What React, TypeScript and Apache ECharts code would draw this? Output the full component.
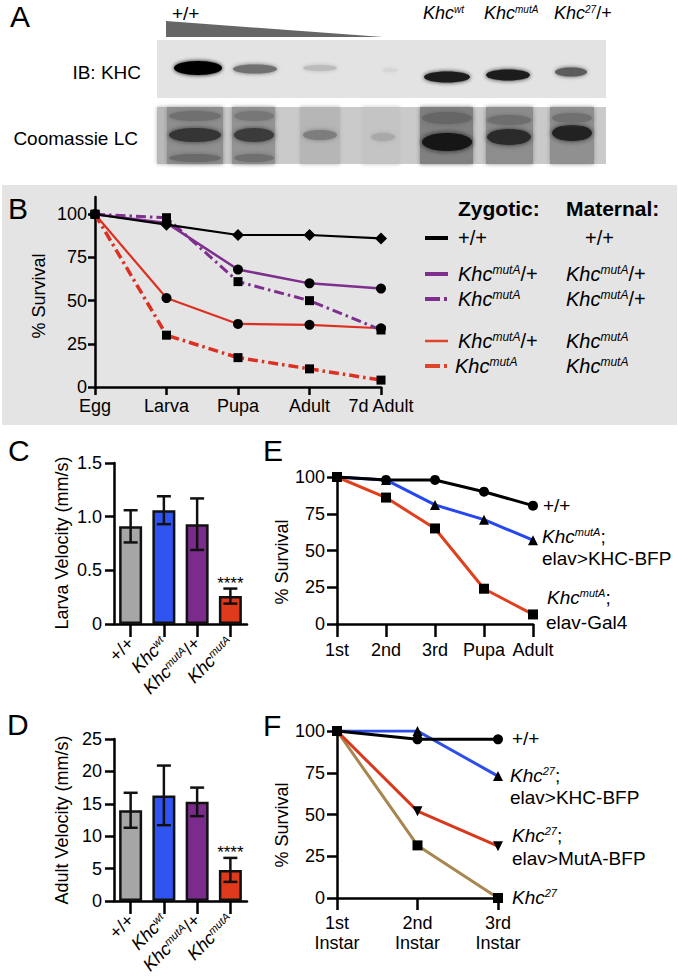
import React, { useEffect, useRef } from 'react';
import * as echarts from 'echarts';

const FONT = '"Liberation Sans", Arial, Helvetica, sans-serif';

// ---------- Panel B : survival by stage (maternal / zygotic) ----------
const stagesB = ['Egg', 'Larva', 'Pupa', 'Adult', '7d Adult'];
const bWildType = [100, 94, 88, 88, 86];
const bZygHetMatHet = [100, 95, 68, 60, 57];
const bZygHomMatHet = [100, 98, 61, 50, 33];
const bZygHetMatHom = [100, 51.5, 36.5, 36, 34];
const bZygHomMatHom = [100, 30, 17, 10.5, 4];

// ---------- Panels C / D : velocities ----------
const genotypes = ['+/+', 'Khc^wt', 'Khc^mutA/+', 'Khc^mutA'];
const barColors = ['#a6a6a6', '#2f54f2', '#7a2b8b', '#df3a1b'];
const larvaVelocity = [0.91, 1.06, 0.93, 0.26];
const larvaErr = [0.15, 0.13, 0.24, 0.07];
const adultVelocity = [14.0, 16.3, 15.3, 4.8];
const adultErr = [2.7, 4.6, 2.2, 1.85];
const significance = ['', '', '', '****'];
const larvaTicks = [0, 0.5, 1.0, 1.5];
const adultTicks = [0, 5, 10, 15, 20, 25];

// ---------- Panel E ----------
const stagesE = ['1st', '2nd', '3rd', 'Pupa', 'Adult'];
const eWildType = [100, 98, 98, 90, 80.5];
const eRescueKHC = [100, 98, 81, 71, 57];
const eGal4 = [100, 86, 65, 24, 6.5];

// ---------- Panel F ----------
const stagesF = ['1st\nInstar', '2nd\nInstar', '3rd\nInstar'];
const fWildType = [100, 95, 95];
const fRescueKHC = [100, 100, 73];
const fRescueMutA = [100, 52, 31];
const fKhc27 = [100, 31.5, 0];

const survivalTicks = [0, 25, 50, 75, 100];

// rich helpers -----------------------------------------------------------
const toRich = (s: string) => {
  const m = s.match(/^Khc\^([^/;]+)(.*)$/);
  if (!m) return `{n|${s}}`;
  return `{k|Khc}{s|${m[1]}}` + (m[2] ? `{n|${m[2]}}` : '');
};

const optRich = (size: number, sup: number) => ({
  n: { fontSize: size, fontFamily: FONT, color: '#000' },
  k: { fontSize: size, fontFamily: FONT, fontStyle: 'italic', color: '#000' },
  s: { fontSize: sup, fontFamily: FONT, fontStyle: 'italic', color: '#000', verticalAlign: 'top', lineHeight: sup + 2 },
});
const gRich = (size: number, sup: number) => ({
  n: { fontSize: size, fontFamily: FONT, fill: '#000' },
  k: { fontSize: size, fontFamily: FONT, fontStyle: 'italic', fill: '#000' },
  s: { fontSize: sup, fontFamily: FONT, fontStyle: 'italic', fill: '#000', verticalAlign: 'top', lineHeight: sup + 2 },
});

const gText = (x: number, y: number, text: string, size = 19, extra: any = {}) => ({
  type: 'text', x, y, silent: true, z: 10,
  style: {
    text, fill: '#000', fontSize: size, fontFamily: FONT,
    align: 'left', verticalAlign: 'middle', rich: gRich(size, Math.round(size * 0.6)), ...extra,
  },
});

const gRichText = (x: number, y: number, s: string, size = 19, sup = 11) => ({
  type: 'text', x, y, silent: true, z: 10,
  style: { text: s, fill: '#000', fontSize: size, fontFamily: FONT, align: 'left', verticalAlign: 'middle', rich: gRich(size, sup) },
});

const vText = (x: number, y: number, text: string, size = 18) => ({
  type: 'text', x, y, rotation: Math.PI / 2, silent: true, z: 10,
  style: { text, fill: '#000', fontSize: size, fontFamily: FONT, align: 'center', verticalAlign: 'middle' },
});

const gLine = (x1: number, y1: number, x2: number, y2: number, stroke: string, lineWidth: number) => ({
  type: 'line', silent: true, z: 10, shape: { x1, y1, x2, y2 }, style: { stroke, lineWidth },
});

// axis helpers --------------------------------------------------------------
const axLine = { show: true, lineStyle: { color: '#000', width: 2.5 } };
const tick = (len: number) => ({ show: true, length: len, lineStyle: { color: '#000', width: 2.5 } });

const errRender = (sig: string[]) => (params: any, api: any) => {
  const i = api.value(0);
  const m = api.value(1);
  const e = api.value(2);
  const top = api.coord([i, m + e]);
  const bot = api.coord([i, m - e]);
  const cap = 7;
  const st = { stroke: '#111', lineWidth: 2.5 };
  const children: any[] = [
    { type: 'line', shape: { x1: top[0], y1: top[1], x2: bot[0], y2: bot[1] }, style: st },
    { type: 'line', shape: { x1: top[0] - cap, y1: top[1], x2: top[0] + cap, y2: top[1] }, style: st },
    { type: 'line', shape: { x1: bot[0] - cap, y1: bot[1], x2: bot[0] + cap, y2: bot[1] }, style: st },
  ];
  const s = sig[params.dataIndex];
  if (s) {
    children.push({
      type: 'text', x: top[0], y: top[1] - 5,
      style: { text: s, fill: '#000', fontSize: 17, fontFamily: FONT, align: 'center', verticalAlign: 'middle' },
    });
  }
  return { type: 'group', children };
};

const lineSeries = (data: number[], idx: number, color: string, symbol: string, size: number, type: any, width: number, extra: any = {}) => ({
  type: 'line', xAxisIndex: idx, yAxisIndex: idx, data, symbol, symbolSize: size,
  lineStyle: { color, width, type }, itemStyle: { color: '#000', borderWidth: 0 }, emphasis: { disabled: true }, ...extra,
});

const dashDot = [10, 4, 2.5, 4];

export default function App() {
  const ref = useRef<HTMLDivElement>(null);

  useEffect(() => {
    if (!ref.current) return;
    const chart = echarts.init(ref.current, undefined, { renderer: 'svg' });

    // ---------- graphics: panel A blot ----------
    const blot: any[] = [];
    blot.push({ type: 'polygon', silent: true, shape: { points: [[166, 21], [383, 37], [166, 37]] }, style: { fill: '#666' } });
    blot.push({ type: 'rect', silent: true, shape: { x: 157, y: 40, width: 449, height: 58 }, style: { fill: '#e3e3e3' } });
    blot.push({ type: 'rect', silent: true, shape: { x: 157, y: 107, width: 449, height: 57 }, style: { fill: '#cacaca' } });
    const cols = [
      [157, 10, '#b9b9b9'], [167, 56, '#8f8f8f'], [232, 43, '#949494'], [300, 40, '#b6b6b6'],
      [362, 38, '#c4c4c4'], [420, 53, '#808080'], [486, 47, '#8d8d8d'], [550, 44, '#909090'],
    ];
    cols.forEach((c: any) => blot.push({ type: 'rect', silent: true, shape: { x: c[0], y: 107, width: c[1], height: 57 }, style: { fill: c[2], shadowBlur: 4, shadowColor: c[2] } }));
    const cBands = [
      [195, 135, 26, 7, '#353535'], [254, 135, 20, 7, '#3a3a3a'], [320, 135, 17, 5, '#7d7d7d'],
      [383, 137, 12, 4, '#a8a8a8'], [447, 142, 25, 9, '#151515'], [509, 137, 22, 8, '#2b2b2b'], [572, 133, 20, 8, '#202020'],
      [195, 158, 26, 4, '#6a6a6a'], [254, 158, 20, 4, '#6f6f6f'], [195, 116, 26, 5, '#6f6f6f'], [254, 116, 20, 5, '#777'],
      [447, 118, 25, 6, '#666'], [509, 120, 22, 5, '#6e6e6e'], [572, 118, 20, 5, '#707070'],
    ];
    cBands.forEach((b: any) => blot.push({ type: 'ellipse', silent: true, shape: { cx: b[0], cy: b[1], rx: b[2], ry: b[3] }, style: { fill: b[4], shadowBlur: 5, shadowColor: b[4] } }));
    const kBands = [
      [198, 68, 24, 7, '#050505'], [255, 69, 22, 4.5, '#707070'], [320, 68, 17, 3, '#bcbcbc'], [390, 70, 8, 2, '#d6d6d6'],
      [447, 77, 23, 5.5, '#1a1a1a'], [508, 75, 22, 5.5, '#1e1e1e'], [571, 72, 16, 4.5, '#5c5c5c'],
    ];
    kBands.forEach((b: any) => blot.push({ type: 'ellipse', silent: true, shape: { cx: b[0], cy: b[1], rx: b[2], ry: b[3] }, style: { fill: b[4], shadowBlur: 4, shadowColor: b[4] } }));

    const graphics: any[] = [
      // panel B background
      { type: 'rect', silent: true, z: -10, shape: { x: 2, y: 185, width: 675, height: 240 }, style: { fill: '#e4e4e4' } },
      ...blot,
      // panel letters
      gText(10, 16, 'A', 30), gText(8, 208, 'B', 30), gText(8, 450, 'C', 30),
      gText(7, 724, 'D', 30), gText(263, 450, 'E', 30), gText(263, 725, 'F', 30),
      // panel A labels
      gText(172, 13, '+/+', 19),
      gRichText(423, 13, toRich('Khc^wt'), 18, 10),
      gRichText(484, 13, toRich('Khc^mutA'), 18, 10),
      gRichText(554, 13, toRich('Khc^27/+'), 18, 10),
      gText(141, 72, 'IB: KHC', 19, { align: 'right' }),
      gText(138, 138, 'Coomassie LC', 19, { align: 'right' }),
      // panel B legend
      gText(458, 208, 'Zygotic:', 21, { fontWeight: 'bold' }),
      gText(566, 208, 'Maternal:', 21, { fontWeight: 'bold' }),
      gLine(425, 238, 448, 238, '#000', 4),
      gText(458, 238, '+/+', 20), gText(585, 238, '+/+', 20),
      gLine(425, 274, 448, 274, '#7e2f8e', 4),
      gRichText(458, 274, toRich('Khc^mutA/+'), 20, 12), gRichText(566, 274, toRich('Khc^mutA/+'), 20, 12),
      gLine(425, 299, 440, 299, '#7e2f8e', 4), gLine(444, 299, 447, 299, '#7e2f8e', 4),
      gRichText(458, 299, toRich('Khc^mutA'), 20, 12), gRichText(566, 299, toRich('Khc^mutA/+'), 20, 12),
      gLine(425, 341, 448, 341, '#e0442a', 2.5),
      gRichText(458, 341, toRich('Khc^mutA/+'), 20, 12), gRichText(566, 341, toRich('Khc^mutA'), 20, 12),
      gLine(425, 366, 440, 366, '#e0442a', 4), gLine(444, 366, 447, 366, '#e0442a', 4),
      gRichText(455, 366, toRich('Khc^mutA'), 20, 12), gRichText(566, 366, toRich('Khc^mutA'), 20, 12),
      // y-axis names
      vText(39, 296, '% Survival'),
      vText(62, 543, 'Larva Velocity (mm/s)'),
      vText(62, 820, 'Adult Velocity (mm/s)'),
      vText(282, 562, '% Survival'),
      vText(282, 825, '% Survival'),
      // panel E annotations
      gText(543, 505, '+/+', 19),
      gRichText(542, 536, toRich('Khc^mutA;'), 19, 11),
      gText(542, 558, 'elav>KHC-BFP', 19),
      gRichText(547, 597, toRich('Khc^mutA;'), 19, 11),
      gText(546, 622, 'elav-Gal4', 19),
      // panel F annotations
      gText(512, 738, '+/+', 19),
      gRichText(510, 775, toRich('Khc^27;'), 19, 11),
      gText(510, 797, 'elav>KHC-BFP', 19),
      gRichText(512, 835, toRich('Khc^27;'), 19, 11),
      gText(512, 858, 'elav>MutA-BFP', 19),
      gRichText(512, 897, toRich('Khc^27'), 19, 11),
    ];

    const baseLabel = { color: '#000', fontSize: 18, fontFamily: FONT };

    const option: any = {
      animation: false,
      backgroundColor: '#fff',
      textStyle: { fontFamily: FONT },
      graphic: { elements: graphics },
      grid: [
        { left: 95, top: 197, width: 286, height: 190, containLabel: false },
        { left: 114, top: 463, width: 133, height: 161, containLabel: false },
        { left: 114, top: 739, width: 133, height: 162, containLabel: false },
        { left: 337, top: 477, width: 196, height: 147, containLabel: false },
        { left: 337, top: 731, width: 161, height: 167, containLabel: false },
      ],
      xAxis: [
        {
          gridIndex: 0, type: 'category', data: stagesB, boundaryGap: false,
          axisLine: axLine, axisTick: tick(8), splitLine: { show: false },
          axisLabel: { ...baseLabel, margin: 10, interval: 0 },
        },
        {
          gridIndex: 1, type: 'category', data: genotypes, boundaryGap: true,
          axisLine: axLine, axisTick: { ...tick(13), alignWithLabel: true, interval: 0 }, splitLine: { show: false },
          axisLabel: { ...baseLabel, rotate: 45, margin: 16, interval: 0, formatter: (v: string) => toRich(v), rich: optRich(18, 11) },
        },
        {
          gridIndex: 2, type: 'category', data: genotypes, boundaryGap: true,
          axisLine: axLine, axisTick: { ...tick(13), alignWithLabel: true, interval: 0 }, splitLine: { show: false },
          axisLabel: { ...baseLabel, rotate: 45, margin: 16, interval: 0, formatter: (v: string) => toRich(v), rich: optRich(18, 11) },
        },
        {
          gridIndex: 3, type: 'category', data: stagesE, boundaryGap: false,
          axisLine: axLine, axisTick: tick(13), splitLine: { show: false },
          axisLabel: { ...baseLabel, margin: 17, interval: 0 },
        },
        {
          gridIndex: 4, type: 'category', data: stagesF, boundaryGap: false,
          axisLine: axLine, axisTick: tick(12), splitLine: { show: false },
          axisLabel: { ...baseLabel, margin: 15, interval: 0, lineHeight: 20 },
        },
      ],
      yAxis: [
        {
          gridIndex: 0, type: 'value', min: 0, max: 110,
          axisLine: axLine, splitLine: { show: false },
          axisTick: { ...tick(7), customValues: survivalTicks },
          axisLabel: { ...baseLabel, margin: 8, customValues: survivalTicks },
        },
        {
          gridIndex: 1, type: 'value', min: 0, max: 1.5, interval: 0.5,
          axisLine: axLine, splitLine: { show: false }, axisTick: tick(9),
          axisLabel: { ...baseLabel, margin: 12, formatter: (v: number) => (v === 0 ? '0' : v.toFixed(1)) },
        },
        {
          gridIndex: 2, type: 'value', min: 0, max: 25, interval: 5,
          axisLine: axLine, splitLine: { show: false }, axisTick: tick(9),
          axisLabel: { ...baseLabel, margin: 12 },
        },
        {
          gridIndex: 3, type: 'value', min: 0, max: 100, interval: 25,
          axisLine: axLine, splitLine: { show: false }, axisTick: tick(10),
          axisLabel: { ...baseLabel, margin: 12 },
        },
        {
          gridIndex: 4, type: 'value', min: 0, max: 100, interval: 25,
          axisLine: axLine, splitLine: { show: false }, axisTick: tick(10),
          axisLabel: { ...baseLabel, margin: 12 },
        },
      ],
      series: [
        // Panel B
        lineSeries(bZygHomMatHom, 0, '#dc3022', 'rect', 9, dashDot, 3.5),
        lineSeries(bZygHetMatHom, 0, '#dc3022', 'circle', 10, 'solid', 2.2),
        lineSeries(bZygHomMatHet, 0, '#7e2f8e', 'rect', 9, dashDot, 3),
        lineSeries(bZygHetMatHet, 0, '#7e2f8e', 'circle', 10, 'solid', 2.5),
        lineSeries(bWildType, 0, '#000', 'diamond', 12, 'solid', 2.2),
        // Panel C
        {
          type: 'bar', xAxisIndex: 1, yAxisIndex: 1, barWidth: 23,
          data: larvaVelocity.map((v, i) => ({ value: v, itemStyle: { color: barColors[i] } })),
          itemStyle: { borderColor: '#111', borderWidth: 2.5 }, emphasis: { disabled: true },
        },
        {
          type: 'custom', xAxisIndex: 1, yAxisIndex: 1, z: 5,
          data: larvaVelocity.map((v, i) => [i, v, larvaErr[i]]),
          encode: { x: 0, y: 1 }, renderItem: errRender(significance),
        },
        // Panel D
        {
          type: 'bar', xAxisIndex: 2, yAxisIndex: 2, barWidth: 23,
          data: adultVelocity.map((v, i) => ({ value: v, itemStyle: { color: barColors[i] } })),
          itemStyle: { borderColor: '#111', borderWidth: 2.5 }, emphasis: { disabled: true },
        },
        {
          type: 'custom', xAxisIndex: 2, yAxisIndex: 2, z: 5,
          data: adultVelocity.map((v, i) => [i, v, adultErr[i]]),
          encode: { x: 0, y: 1 }, renderItem: errRender(significance),
        },
        // Panel E
        lineSeries(eGal4, 3, '#e0401e', 'rect', 10, 'solid', 3),
        lineSeries(eRescueKHC, 3, '#2646ef', 'triangle', 10, 'solid', 3),
        lineSeries(eWildType, 3, '#000', 'circle', 10, 'solid', 3),
        // Panel F
        lineSeries(fKhc27, 4, '#a8864f', 'rect', 10, 'solid', 3),
        lineSeries(fRescueMutA, 4, '#d8381c', 'triangle', 10, 'solid', 3, { symbolRotate: 180 }),
        lineSeries(fRescueKHC, 4, '#2d4ee8', 'triangle', 10, 'solid', 3),
        lineSeries(fWildType, 4, '#000', 'circle', 10, 'solid', 3),
      ],
    };

    chart.setOption(option);
    return () => chart.dispose();
  }, []);

  return <div ref={ref} style={{ position: 'absolute', left: 0, top: 0, width: 678, height: 980 }} />;
}
